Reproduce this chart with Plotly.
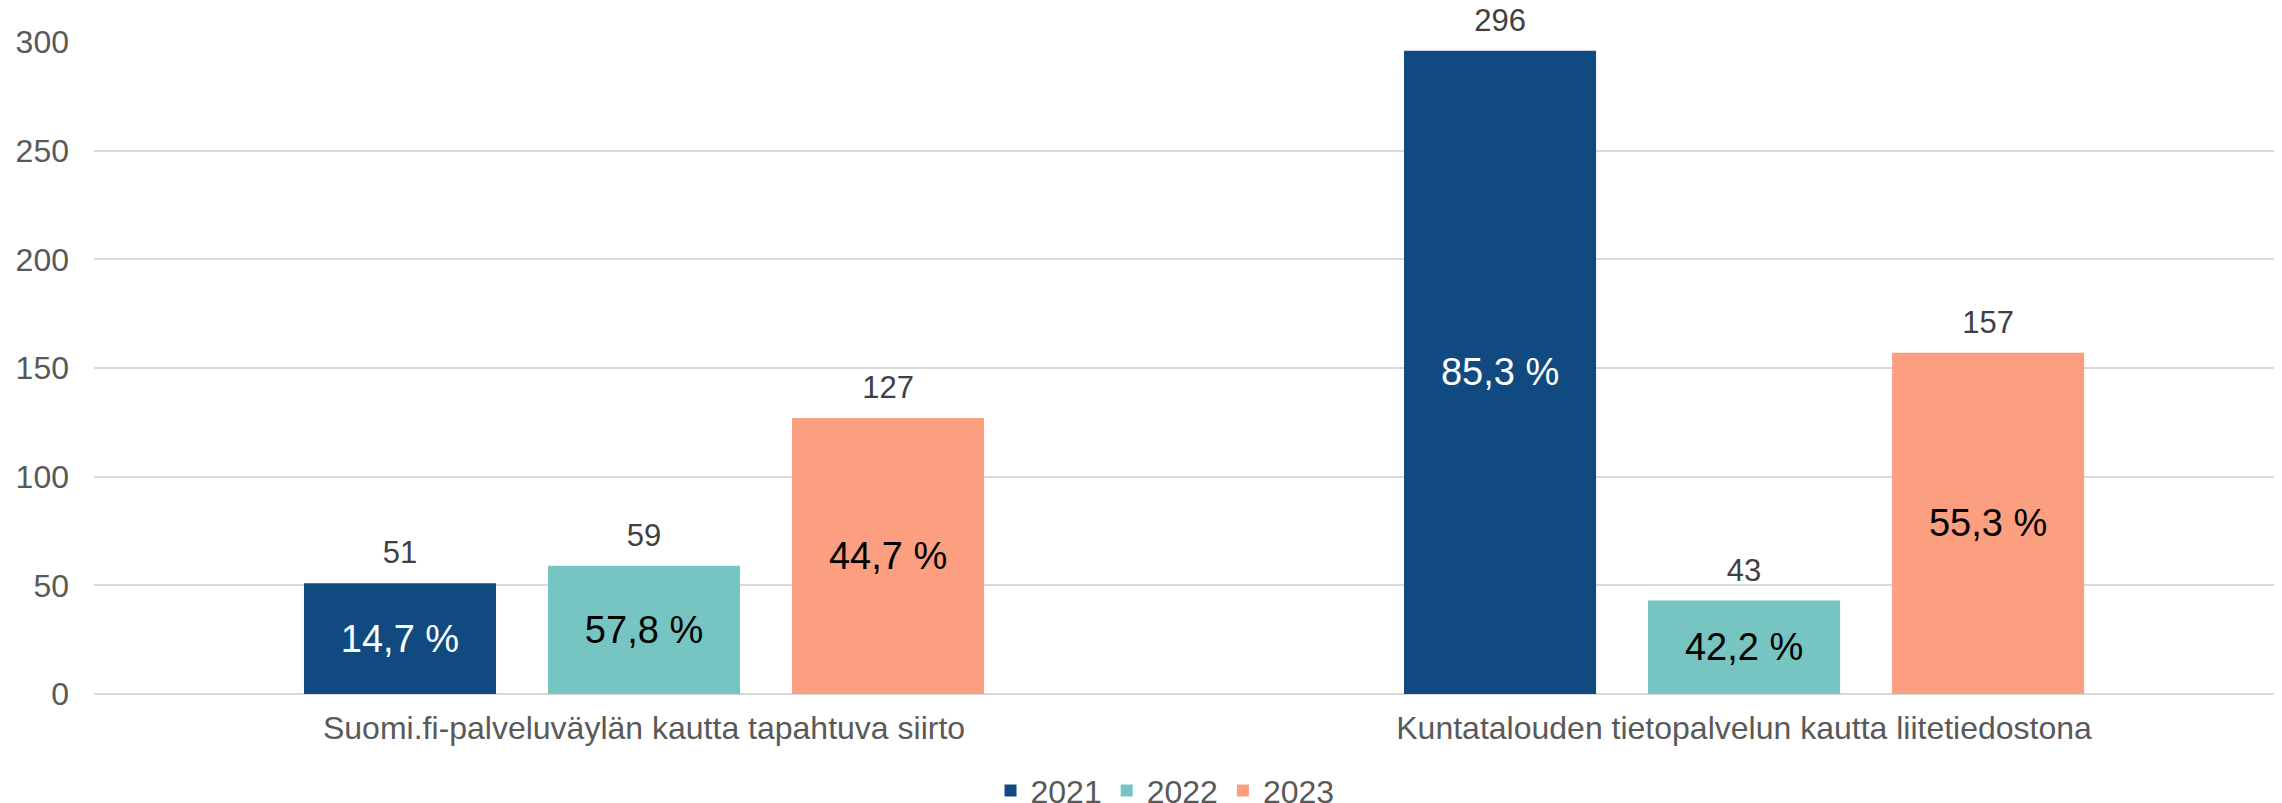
import plotly.graph_objects as go

categories = ["Suomi.fi-palveluväylän kautta tapahtuva siirto",
              "Kuntatalouden tietopalvelun kautta liitetiedostona"]
years = ["2021", "2022", "2023"]
values_2021 = [51, 296]
values_2022 = [59, 43]
values_2023 = [127, 157]
shares_2021 = ["14,7 %", "85,3 %"]
shares_2022 = ["57,8 %", "42,2 %"]
shares_2023 = ["44,7 %", "55,3 %"]

series_values = [values_2021, values_2022, values_2023]
series_shares = [shares_2021, shares_2022, shares_2023]
colors = ["#114A80", "#76C5C3", "#FB9F80"]
share_colors = ["#FFFFFF", "#000000", "#000000"]

FONT = "Liberation Sans, Arial, sans-serif"
BARGAP = 0.3345

fig = go.Figure()
for i, y in enumerate(years):
    fig.add_trace(go.Bar(
        x=categories, y=series_values[i], name=y,
        marker=dict(color=colors[i], line=dict(width=0)),
        offsetgroup=y,
        text=series_shares[i], textposition="inside", insidetextanchor="middle",
        textfont=dict(size=38, color=share_colors[i], family=FONT),
        constraintext="none", hoverinfo="skip",
    ))
for i, y in enumerate(years):
    fig.add_trace(go.Scatter(
        x=categories, y=series_values[i], mode="markers+text",
        marker=dict(size=18, opacity=0),
        text=[str(v) for v in series_values[i]], textposition="top center",
        textfont=dict(size=31, color="#404040", family=FONT),
        offsetgroup=y, showlegend=False, cliponaxis=False, hoverinfo="skip",
    ))

fig.update_layout(
    width=2274, height=795,
    margin=dict(l=86, r=0, t=34, b=109, autoexpand=False),
    paper_bgcolor="white", plot_bgcolor="white",
    font=dict(family=FONT, color="#595959"),
    barmode="group", bargap=BARGAP, bargroupgap=0.213,
    scattermode="group", scattergap=BARGAP,
    showlegend=True,
    legend=dict(orientation="h", x=0.4895, xanchor="center", y=-0.106, yanchor="top",
                font=dict(size=32, color="#595959", family=FONT),
                traceorder="normal", itemwidth=30),
    xaxis=dict(type="category", range=[-0.5, 1.489], showgrid=False, automargin=False,
               showline=False, ticks="", tickfont=dict(size=32, color="#595959"),
               ticklabelstandoff=12),
    yaxis=dict(range=[0, 300], dtick=50, showgrid=True, gridcolor="#D9D9D9",
               gridwidth=2, zeroline=True, zerolinecolor="#D9D9D9", zerolinewidth=2,
               showline=False, ticks="", tickfont=dict(size=32, color="#595959"),
               ticklabelstandoff=24, automargin=False),
)

fig.write_html("out.html")
